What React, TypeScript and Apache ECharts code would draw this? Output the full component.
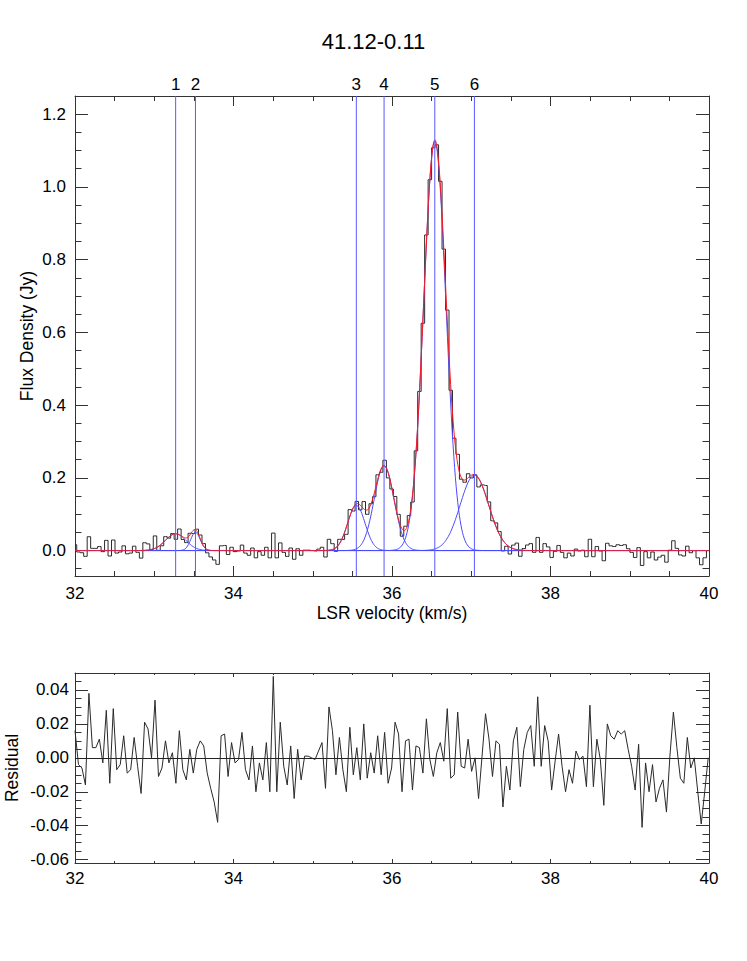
import React, { useEffect, useRef } from "react";
import * as echarts from "echarts";

// ---------- texts ----------
const chartTitle = "41.12-0.11";
const xAxisName = "LSR velocity (km/s)";
const fluxAxisName = "Flux Density (Jy)";
const residualAxisName = "Residual";

// ---------- spectral channels ----------
const velocityStart = 32.0; // km/s, first channel
const channelWidth = 0.0439; // km/s

// residual (data - fit) per channel
const residual = [
  0.016, -0.004, -0.006, -0.016, 0.038, 0.006, 0.006, 0.011, -0.003, 0.028,
  -0.015, 0.029, -0.007, -0.004, 0.013, -0.009, -0.007, 0.012, -0.005, -0.021,
  0.021, 0.017, 0.0, 0.034, -0.011, -0.006, 0.01, -0.003, 0.003, -0.015,
  0.016, -0.007, -0.013, 0.005, -0.009, 0.005, 0.01, 0.007, -0.009, -0.018,
  -0.026, -0.038, 0.013, 0.014, -0.011, 0.009, -0.003, -0.001, 0.015, -0.007,
  -0.013, 0.007, -0.02, -0.003, -0.013, 0.009, -0.02, 0.048, -0.02, 0.021,
  -0.005, -0.016, 0.007, -0.024, 0.005, -0.013, 0.001, 0.001, 0.0, -0.001,
  0.004, 0.009, -0.018, 0.03, 0.016, -0.01, 0.012, -0.007, -0.02, 0.018,
  -0.01, 0.006, -0.013, 0.02, -0.012, 0.003, -0.009, 0.013, -0.01, 0.015,
  -0.015, -0.006, 0.021, 0.014, -0.02, 0.01, 0.011, -0.019, 0.007, 0.006,
  -0.009, 0.023, -0.001, -0.011, 0.003, 0.009, -0.002, 0.029, -0.012, -0.01,
  0.027, -0.005, -0.006, 0.011, -0.008, 0.0, -0.024, 0.001, 0.026, 0.011,
  -0.011, 0.01, 0.008, -0.029, -0.005, -0.019, 0.01, 0.018, -0.017, 0.005,
  0.015, 0.019, -0.005, 0.036, -0.005, 0.019, 0.01, -0.019, -0.002, 0.014,
  -0.005, -0.02, -0.007, -0.015, 0.004, -0.001, 0.001, -0.017, 0.031, -0.017,
  0.011, -0.001, -0.028, 0.02, 0.013, 0.011, 0.016, 0.014, 0.016, 0.005,
  -0.005, -0.019, 0.008, -0.041, -0.003, -0.02, -0.004, -0.026, -0.018, -0.013,
  -0.032, 0.001, 0.027, 0.006, -0.012, -0.015, 0.012, -0.006, 0.0, -0.02,
  -0.039, -0.02, 0.0,
];

// ---------- Gaussian components ----------
const componentNames = ["1", "2", "3", "4", "5", "6"];
const componentCenters = [33.27, 33.52, 35.55, 35.9, 36.54, 37.04];
const componentAmplitudes = [0.046, 0.05, 0.124, 0.233, 1.125, 0.207];
const componentSigmas = [0.13, 0.06, 0.11, 0.125, 0.14, 0.18];

// ---------- axes ----------
const velocityMin = 32;
const velocityMax = 40;
const velocityInterval = 2;
const fluxMin = -0.07;
const fluxMax = 1.25;
const residualMin = -0.062;
const residualMax = 0.05;
const fluxMajorTicks = [0, 0.2, 0.4, 0.6, 0.8, 1.0, 1.2];
const residualMajorTicks = [-0.06, -0.04, -0.02, 0, 0.02, 0.04];

// ---------- helpers ----------
function gauss(v: number, k: number) {
  const d = v - componentCenters[k];
  return componentAmplitudes[k] * Math.exp(-(d * d) / (2 * componentSigmas[k] * componentSigmas[k]));
}
function model(v: number) {
  let s = 0;
  for (let k = 0; k < componentCenters.length; k++) s += gauss(v, k);
  return s;
}
function minorTicks(lo: number, hi: number, step: number, majors: number[]) {
  const out: number[] = [];
  const n0 = Math.ceil(lo / step - 1e-9);
  const n1 = Math.floor(hi / step + 1e-9);
  for (let n = n0; n <= n1; n++) {
    const v = Math.round(n * step * 10000) / 10000;
    if (!majors.some((m) => Math.abs(m - v) < 1e-9)) out.push(v);
  }
  return out;
}

const FONT = "Liberation Sans, Arial, Helvetica, sans-serif";
const AXIS_COLOR = "#333";
const BLUE = "#4a4aff";
const VLINE_BLUE = "#5a5aff";

export default function App() {
  const ref = useRef<HTMLDivElement>(null);

  useEffect(() => {
    document.body.style.margin = "0";
    if (!ref.current) return;
    const chart = echarts.init(ref.current, undefined, { renderer: "svg" });

    const channelVel = residual.map((_, i) => Math.round((velocityStart + i * channelWidth) * 10000) / 10000);
    const spectrum = channelVel.map((v, i) => [v, model(v) + residual[i]]);
    const residualData = channelVel.map((v, i) => [v, residual[i]]);

    const fine: number[] = [];
    for (let n = 0; n <= 800; n++) fine.push(velocityMin + n * 0.01);

    const componentSeries = componentCenters.map((_, k) => ({
      type: "line",
      xAxisIndex: 0,
      yAxisIndex: 0,
      data: fine.map((v) => [v, gauss(v, k)]),
      showSymbol: false,
      symbol: "none",
      lineStyle: { color: BLUE, width: 1 },
      z: 3,
      silent: true,
    }));

    const centerLineSeries = componentCenters.map((c) => ({
      type: "line",
      xAxisIndex: 0,
      yAxisIndex: 0,
      data: [
        [c, fluxMin],
        [c, fluxMax],
      ],
      showSymbol: false,
      symbol: "none",
      lineStyle: { color: VLINE_BLUE, width: 1 },
      z: 5,
      silent: true,
    }));

    const centerLabelSeries = {
      type: "scatter",
      xAxisIndex: 0,
      yAxisIndex: 0,
      data: componentCenters.map((c, k) => ({ value: [c, fluxMax], name: componentNames[k] })),
      symbol: "circle",
      symbolSize: 1,
      itemStyle: { color: "rgba(255,255,255,0)" },
      label: {
        show: true,
        position: "top",
        distance: 3,
        fontSize: 17,
        fontFamily: FONT,
        color: "#000",
        opacity: 1,
        textBorderWidth: 0,
        formatter: (p: any) => p.name,
      },
      z: 6,
      silent: true,
      clip: false,
    };

    const fluxMinor = minorTicks(fluxMin, fluxMax, 0.05, fluxMajorTicks);
    const residualMinor = minorTicks(residualMin, residualMax, 0.005, residualMajorTicks);

    const xAxisBase = (grid: number, pos: string, tickLen: number, labels: boolean, margin: number) => ({
      type: "value",
      gridIndex: grid,
      position: pos,
      min: velocityMin,
      max: velocityMax,
      interval: velocityInterval,
      axisLine: { show: true, onZero: false, lineStyle: { color: AXIS_COLOR, width: 1 } },
      axisTick: { show: true, inside: true, length: tickLen, lineStyle: { color: AXIS_COLOR } },
      minorTick: { show: true, splitNumber: 4, length: tickLen / 2, lineStyle: { color: AXIS_COLOR } },
      axisLabel: {
        show: labels,
        margin,
        fontSize: 17,
        fontFamily: FONT,
        color: "#000",
        formatter: (v: number) => String(Math.round(v)),
      },
      splitLine: { show: false },
      minorSplitLine: { show: false },
    });

    const yAxisBase = (
      grid: number,
      pos: string,
      min: number,
      max: number,
      ticks: number[],
      len: number,
      line: boolean,
      labels: boolean,
      digits: number,
      margin: number
    ) => ({
      type: "value",
      gridIndex: grid,
      position: pos,
      min,
      max,
      axisLine: { show: line, onZero: false, lineStyle: { color: AXIS_COLOR, width: 1 } },
      axisTick: { show: true, inside: true, length: len, customValues: ticks, lineStyle: { color: AXIS_COLOR } },
      axisLabel: {
        show: labels,
        customValues: ticks,
        margin,
        fontSize: 17,
        fontFamily: FONT,
        color: "#000",
        formatter: (v: number) => v.toFixed(digits),
      },
      splitLine: { show: false },
    });

    const option: any = {
      animation: false,
      backgroundColor: "#fff",
      title: {
        text: chartTitle,
        left: "center",
        top: 25,
        textStyle: { fontSize: 22, fontWeight: "normal", fontFamily: FONT, color: "#000" },
      },
      grid: [
        { left: 75, top: 96, width: 634, height: 480, containLabel: false, outerBoundsMode: "none" },
        { left: 75, top: 673, width: 634, height: 190, containLabel: false, outerBoundsMode: "none" },
      ],
      xAxis: [
        {
          ...xAxisBase(0, "bottom", 10, true, 9),
          name: xAxisName,
          nameLocation: "middle",
          nameGap: 28,
          nameMoveOverlap: false,
          nameTextStyle: { fontSize: 17.5, fontFamily: FONT, color: "#000" },
        },
        xAxisBase(0, "top", 10, false, 8),
        xAxisBase(1, "bottom", 4, true, 7),
        xAxisBase(1, "top", 4, false, 8),
      ],
      yAxis: [
        {
          ...yAxisBase(0, "left", fluxMin, fluxMax, fluxMajorTicks, 13, true, true, 1, 9),
          name: fluxAxisName,
          nameLocation: "middle",
          nameGap: 39,
          nameMoveOverlap: false,
          nameTextStyle: { fontSize: 17.5, fontFamily: FONT, color: "#000" },
        },
        yAxisBase(0, "left", fluxMin, fluxMax, fluxMinor, 6.5, false, false, 1, 8),
        yAxisBase(0, "right", fluxMin, fluxMax, fluxMajorTicks, 13, true, false, 1, 8),
        yAxisBase(0, "right", fluxMin, fluxMax, fluxMinor, 6.5, false, false, 1, 8),
        {
          ...yAxisBase(1, "left", residualMin, residualMax, residualMajorTicks, 13, true, true, 2, 6),
          name: residualAxisName,
          nameLocation: "middle",
          nameGap: 54,
          nameMoveOverlap: false,
          nameTextStyle: { fontSize: 17.5, fontFamily: FONT, color: "#000" },
        },
        yAxisBase(1, "left", residualMin, residualMax, residualMinor, 6.5, false, false, 2, 6),
        yAxisBase(1, "right", residualMin, residualMax, residualMajorTicks, 13, true, false, 2, 6),
        yAxisBase(1, "right", residualMin, residualMax, residualMinor, 6.5, false, false, 2, 6),
      ],
      series: [
        {
          type: "line",
          name: "spectrum",
          xAxisIndex: 0,
          yAxisIndex: 0,
          data: spectrum,
          step: "middle",
          showSymbol: false,
          symbol: "none",
          lineStyle: { color: "#2a2a2a", width: 1 },
          z: 2,
          silent: true,
        },
        ...componentSeries,
        {
          type: "line",
          name: "fit",
          xAxisIndex: 0,
          yAxisIndex: 0,
          data: fine.map((v) => [v, model(v)]),
          showSymbol: false,
          symbol: "none",
          lineStyle: { color: "#ff1a1a", width: 1 },
          z: 4,
          silent: true,
        },
        ...centerLineSeries,
        centerLabelSeries,
        {
          type: "line",
          name: "residual",
          xAxisIndex: 2,
          yAxisIndex: 4,
          data: residualData,
          showSymbol: false,
          symbol: "none",
          lineStyle: { color: "#2a2a2a", width: 1 },
          z: 2,
          silent: true,
          markLine: {
            silent: true,
            symbol: ["none", "none"],
            lineStyle: { color: "#222", width: 1, type: "solid" },
            label: { show: false },
            data: [{ yAxis: 0 }],
          },
        },
      ],
    };

    chart.setOption(option);
    return () => chart.dispose();
  }, []);

  return <div ref={ref} style={{ width: 747, height: 961 }} />;
}
